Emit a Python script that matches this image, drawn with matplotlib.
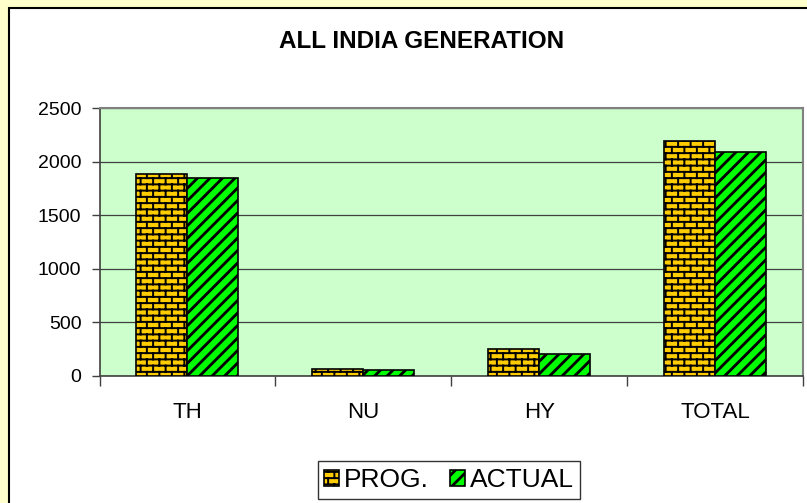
import numpy as np
import matplotlib
matplotlib.use("Agg")
import matplotlib.pyplot as plt
import matplotlib.hatch as mhatch
from matplotlib.path import Path
from matplotlib.patches import Rectangle

# data
categories = ['TH', 'NU', 'HY', 'TOTAL']
prog = [1885, 65, 248, 2197]
actual = [1846, 50, 201, 2092]
y_ticks = [0, 500, 1000, 1500, 2000, 2500]


# Excel-like fill patterns: 'o' -> brick, 'O' -> wide diagonal stripes
def brick_path(rows=16, cols=8):
    verts, codes = [], []
    for r in range(rows):
        y0 = (r + 0.5) / rows
        verts += [(0, y0), (1, y0)]
        codes += [Path.MOVETO, Path.LINETO]
        off = 0.25 if r % 2 == 0 else 0.75
        for c in range(cols):
            x = (c + off) / cols
            y1 = (r + 1.5) / rows
            if y1 <= 1:
                verts += [(x, y0), (x, y1)]
                codes += [Path.MOVETO, Path.LINETO]
            else:
                verts += [(x, y0), (x, 1.0), (x, 0.0), (x, y1 - 1)]
                codes += [Path.MOVETO, Path.LINETO, Path.MOVETO, Path.LINETO]
    return Path(verts, codes)


def stripe_path(n=8, t=0.012):
    verts, codes = [], []
    for k in range(-n, n + 1):
        x0 = k / n
        verts += [(x0, 0), (x0 + t, 0), (x0 + t + 1, 1), (x0 + 1, 1), (x0, 0)]
        codes += [Path.MOVETO, Path.LINETO, Path.LINETO, Path.LINETO,
                  Path.CLOSEPOLY]
    return Path(verts, codes)


_orig_get_path = mhatch.get_path


def get_path(pattern, density=6):
    if pattern == 'o':
        return brick_path()
    if pattern == 'O':
        return stripe_path()
    return _orig_get_path(pattern, density)


mhatch.get_path = get_path

plt.rcParams['font.family'] = ['Liberation Sans', 'DejaVu Sans']
plt.rcParams['hatch.linewidth'] = 1.4

fig = plt.figure(figsize=(8.07, 5.03), dpi=100, facecolor='#FFFFCC')

# white chart area with black border (runs off right / bottom)
fig.add_artist(Rectangle((9 / 807, -0.1), 1.2, 0.1 + (503 - 8) / 503,
                         transform=fig.transFigure, facecolor='white',
                         edgecolor='black', linewidth=1.5, zorder=0))

ax = fig.add_axes([99.5 / 807, (503 - 375.7) / 503,
                   (803 - 99.5) / 807, (375.7 - 108.3) / 503])
ax.set_facecolor('#CCFFCC')

x = np.arange(len(categories))
w = 0.29
bp = ax.bar(x - w / 2, prog, w, color='#FFCC00', edgecolor='black',
            linewidth=1.2, hatch='o', label='PROG.', zorder=3)
ba = ax.bar(x + w / 2, actual, w, color='#00FF00', edgecolor='black',
            linewidth=1.2, hatch='O', label='ACTUAL', zorder=3)

ax.set_xlim(-0.5, len(categories) - 0.5)
ax.set_ylim(0, 2500)
ax.set_yticks(y_ticks)
ax.tick_params(axis='y', labelsize=14, length=6, width=1, color='#404040',
               pad=7)
ax.yaxis.grid(True, color='#404040', linewidth=0.9, zorder=1)
ax.set_axisbelow(True)

# ticks between categories, labels centred under them
ax.set_xticks(np.arange(-0.5, len(categories), 1.0))
ax.set_xticklabels([])
ax.set_xticks(x, minor=True)
ax.set_xticklabels(categories, minor=True)
ax.tick_params(axis='x', which='major', length=7, width=1, color='#404040')
ax.tick_params(axis='x', which='minor', length=0, labelsize=16, pad=19)

for s in ['top', 'right']:
    ax.spines[s].set_color('#808080')
    ax.spines[s].set_linewidth(1.5)
for s in ['left', 'bottom']:
    ax.spines[s].set_color('#404040')
    ax.spines[s].set_linewidth(1.2)

fig.text(422 / 807, 1 - 42 / 503, 'ALL INDIA GENERATION', ha='center',
         va='center', fontsize=17.5, fontweight='bold')

leg = fig.legend(handles=[bp, ba], loc='center', ncol=2,
                 bbox_to_anchor=(449 / 807, 1 - 480 / 503), fontsize=19,
                 frameon=True, fancybox=False, edgecolor='black',
                 handlelength=0.55, handleheight=0.55, handletextpad=0.2,
                 columnspacing=0.8, borderpad=0.25, borderaxespad=0)
leg.get_frame().set_linewidth(1.0)

fig.savefig('out.png', dpi=100, facecolor=fig.get_facecolor())
